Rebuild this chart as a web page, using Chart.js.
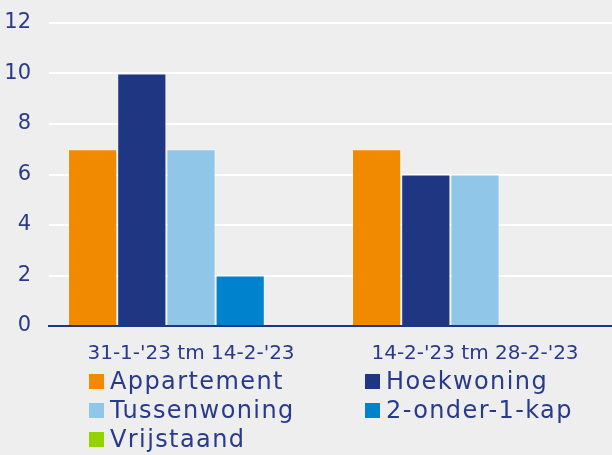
<!DOCTYPE html>
<html>
<head>
<meta charset="utf-8">
<script src="https://cdn.jsdelivr.net/npm/chart.js@4"></script>
<style>
  html, body { margin: 0; padding: 0; background: #eeeeee; }
  #wrap { position: relative; width: 612px; height: 455px; overflow: hidden; }
  #legenda {
    position: absolute; left: 89px; top: 367px;
    display: grid; grid-template-columns: 276px 260px; row-gap: 1px;
    font-family: "DejaVu Sans", sans-serif; font-size: 24px; letter-spacing: 1.4px; color: #283a8c;
  }
  #legenda div { display: flex; align-items: center; height: 28px; white-space: nowrap; }
  #legenda span.box { width: 15px; height: 15px; margin-right: 6px; flex: none; }
</style>
</head>
<body>
<div id="wrap">
  <canvas id="grafiek" width="617" height="455"></canvas>
  <div id="legenda"></div>
</div>
<script>
const perioden = ["31-1-'23 tm 14-2-'23", "14-2-'23 tm 28-2-'23"];
const types = ["Appartement", "Hoekwoning", "Tussenwoning", "2-onder-1-kap", "Vrijstaand"];
const kleuren = ["#f28a00", "#1f3683", "#90c7e8", "#0083cc", "#92d400"];
const appartement = [7, 7];
const hoekwoning = [10, 6];
const tussenwoning = [7, 6];
const tweeOnderEenKap = [2, 0];
const vrijstaand = [0, 0];
const yTicks = [0, 2, 4, 6, 8, 10, 12];

const reeksen = [appartement, hoekwoning, tussenwoning, tweeOnderEenKap, vrijstaand];
const tekstKleur = "#283a8c";
const lettertype = "DejaVu Sans";

const ctx = document.getElementById("grafiek").getContext("2d");
const chart = new Chart(ctx, {
  type: "bar",
  data: {
    labels: perioden,
    datasets: reeksen.map((waarden, i) => ({
      label: types[i],
      data: waarden,
      backgroundColor: kleuren[i],
      borderColor: "rgba(255,255,255,0.35)",
      borderWidth: 1,
      barPercentage: 1,
      categoryPercentage: 0.866,
    })),
  },
  options: {
    responsive: false,
    animation: false,
    layout: { padding: { top: 23, right: 0, bottom: 73, left: 0 } },
    plugins: { legend: { display: false }, tooltip: { enabled: false } },
    scales: {
      x: {
        grid: { display: false, drawTicks: false },
        border: { display: true, color: "#1f3683", width: 2 },
        ticks: {
          color: tekstKleur,
          padding: 16,
          font: { family: lettertype, size: 20 },
        },
      },
      y: {
        min: 0,
        max: 12,
        afterFit: (scale) => { scale.width = 49; },
        afterBuildTicks: (scale) => { scale.ticks = yTicks.map((v) => ({ value: v })); },
        grid: { color: "#ffffff", lineWidth: 2, drawTicks: true, tickLength: 18, tickColor: "transparent" },
        border: { display: false },
        ticks: {
          color: tekstKleur,
          padding: 0,
          font: { family: lettertype, size: 21 },
        },
      },
    },
  },
});

// legenda in twee kolommen
const legenda = document.getElementById("legenda");
types.forEach((naam, i) => {
  const item = document.createElement("div");
  item.innerHTML = '<span class="box" style="background:' + kleuren[i] + '"></span>' + naam;
  legenda.appendChild(item);
});
</script>
</body>
</html>
